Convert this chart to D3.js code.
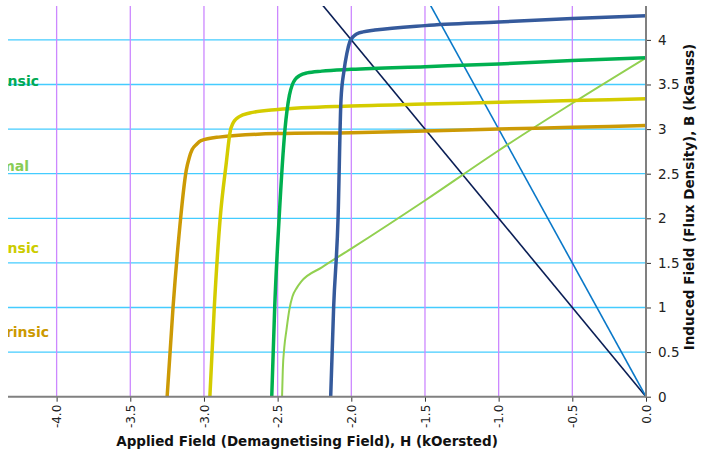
<!DOCTYPE html>
<html><head><meta charset="utf-8">
<script src="https://cdn.jsdelivr.net/npm/d3@7"></script>
<style>body{margin:0;background:#fff}svg{display:block}text{font-family:"DejaVu Sans",Verdana,sans-serif}</style>
</head><body><svg id="c" width="704" height="461"></svg>
<script>
const xTicks = [-4.0,-3.5,-3.0,-2.5,-2.0,-1.5,-1.0,-0.5,0.0];
const yTicks = [0,0.5,1,1.5,2,2.5,3,3.5,4];

const blueH = [-2.14,-2.12,-2.09,-2.07,-2.05,-2.03,-2.01,-1.985,-1.96,-1.92,-1.84,-1.5,-1.0,-0.5,0];
const blueB = [0,1,2,3.33,3.65,3.85,3.98,4.04,4.07,4.09,4.11,4.16,4.20,4.24,4.27];

const greenH = [-2.54,-2.52,-2.49,-2.45,-2.42,-2.40,-2.38,-2.35,-2.30,-2.2,-2.0,-1.5,-1.0,-0.5,0];
const greenB = [0,1,2,3.0,3.38,3.50,3.56,3.60,3.63,3.65,3.67,3.70,3.73,3.77,3.80];

const yellowH = [-2.96,-2.93,-2.89,-2.85,-2.82,-2.805,-2.79,-2.76,-2.69,-2.5,-2.0,-1.5,-1.0,-0.5,0];
const yellowB = [0,1,2,2.6,2.99,3.06,3.10,3.14,3.18,3.22,3.26,3.28,3.30,3.32,3.34];

const orangeH = [-3.25,-3.21,-3.17,-3.12,-3.10,-3.08,-3.05,-3.02,-2.9,-2.5,-2.0,-1.5,-1.0,-0.5,0];
const orangeB = [0,1,1.8,2.54,2.68,2.77,2.83,2.87,2.91,2.95,2.96,2.98,3.00,3.02,3.04];

const normalH = [-2.47,-2.465,-2.455,-2.44,-2.42,-2.40,-2.37,-2.34,-2.2,-2.0,-1.5,-1.0,-0.5,0];
const normalB = [0,0.3,0.55,0.75,0.98,1.12,1.22,1.29,1.45,1.66,2.2,2.76,3.29,3.80];

const load2H = [-2.5,0];
const load2B = [5.0,0];
const load3H = [-1.6,0];
const load3B = [4.8,0];

const labels = ["Intrinsic","Normal","Intrinsic","Intrinsic"];
const labelB = [3.54,2.59,1.67,0.725];

const L = 8, R = 646, T = 6, B = 396.7;
const svg = d3.select("#c");
const x = d3.scaleLinear().domain([-4.33,0]).range([L,R]);
const y = d3.scaleLinear().domain([0,4.38]).range([B,T]);

svg.append("defs").append("clipPath").attr("id","pc")
  .append("rect").attr("x",L).attr("y",T).attr("width",R-L).attr("height",B-T);
svg.append("defs").append("clipPath").attr("id","lc")
  .append("rect").attr("x",L).attr("y",0).attr("width",200).attr("height",461);

// gridlines
svg.append("g").selectAll("line").data(yTicks.filter(d=>d>0)).join("line")
  .attr("x1",L).attr("x2",R).attr("y1",d=>y(d)).attr("y2",d=>y(d))
  .attr("stroke","#44ccff").attr("stroke-width",1.3);
svg.append("g").selectAll("line").data(xTicks.filter(d=>d<0)).join("line")
  .attr("x1",d=>x(d)).attr("x2",d=>x(d)).attr("y1",T).attr("y2",B)
  .attr("stroke","#cc88ff").attr("stroke-width",1.3);

// labels (clipped at the left edge of the plot, as in the reference)
const lblColors = ["#00aa55","#88cc55","#cccc00","#cc9900"];
const lblEnd = [39,29,39,49];
svg.append("g").attr("clip-path","url(#lc)").selectAll("text").data(labels).join("text")
  .attr("x",(d,i)=>lblEnd[i]).attr("y",(d,i)=>y(labelB[i])).attr("dy","0.35em")
  .attr("text-anchor","end").attr("font-weight","bold").attr("font-size",14)
  .attr("fill",(d,i)=>lblColors[i]).text(d=>d);

const line = d3.line().x(d=>x(d[0])).y(d=>y(d[1])).curve(d3.curveMonotoneX);
const zip = (a,b)=>a.map((v,i)=>[v,b[i]]);
const g = svg.append("g").attr("clip-path","url(#pc)");
const series = [
  {d:zip(load2H,load2B),c:"#0a1e55",w:1.6,lin:true},
  {d:zip(load3H,load3B),c:"#0a78c8",w:1.6,lin:true},
  {d:zip(normalH,normalB),c:"#92d050",w:2},
  {d:zip(orangeH,orangeB),c:"#cc9a05",w:3.5},
  {d:zip(yellowH,yellowB),c:"#d4cc00",w:3.5},
  {d:zip(greenH,greenB),c:"#00b050",w:3.5},
  {d:zip(blueH,blueB),c:"#355a9c",w:3.5}
];
series.forEach(s=>{
  g.append("path").attr("d",s.lin?d3.line().x(d=>x(d[0])).y(d=>y(d[1]))(s.d):line(s.d))
   .attr("fill","none").attr("stroke",s.c).attr("stroke-width",s.w).attr("stroke-linejoin","round");
});

// x axis
const xa = svg.append("g").attr("transform",`translate(0,${B})`)
  .call(d3.axisBottom(x).tickValues(xTicks).tickFormat(d3.format(".1f")).tickSize(5).tickSizeOuter(0));
xa.select(".domain").remove();
xa.selectAll(".tick line").attr("stroke","#333");
xa.selectAll("text").attr("transform","rotate(-90)").attr("x",-8).attr("y",0).attr("dy","0.35em")
  .attr("text-anchor","end").attr("font-size",12).attr("fill","#222")
  .text(d=>d3.format(".1f")(d).replace("−","-"));
svg.append("line").attr("x1",L).attr("x2",R).attr("y1",B).attr("y2",B).attr("stroke","#808080").attr("stroke-width",2);

// y axis
const ya = svg.append("g").attr("transform",`translate(${R},0)`)
  .call(d3.axisRight(y).tickValues(yTicks).tickFormat(d=>String(d)).tickSize(5).tickSizeOuter(0));
ya.select(".domain").remove();
ya.selectAll(".tick line").attr("stroke","#333");
ya.selectAll("text").attr("x",12).attr("font-size",13.5).attr("fill","#222");
svg.append("line").attr("x1",R).attr("x2",R).attr("y1",T).attr("y2",B+1).attr("stroke","#808080").attr("stroke-width",2);

svg.append("text").attr("x",307).attr("y",446).attr("text-anchor","middle").attr("font-weight","bold")
  .attr("font-size",13.5).attr("fill","#111").text("Applied Field (Demagnetising Field), H (kOersted)");
svg.append("text").attr("transform",`translate(694,197) rotate(-90)`).attr("text-anchor","middle")
  .attr("font-weight","bold").attr("font-size",13.5).attr("fill","#111")
  .text("Induced Field (Flux Density), B (kGauss)");
</script></body></html>
